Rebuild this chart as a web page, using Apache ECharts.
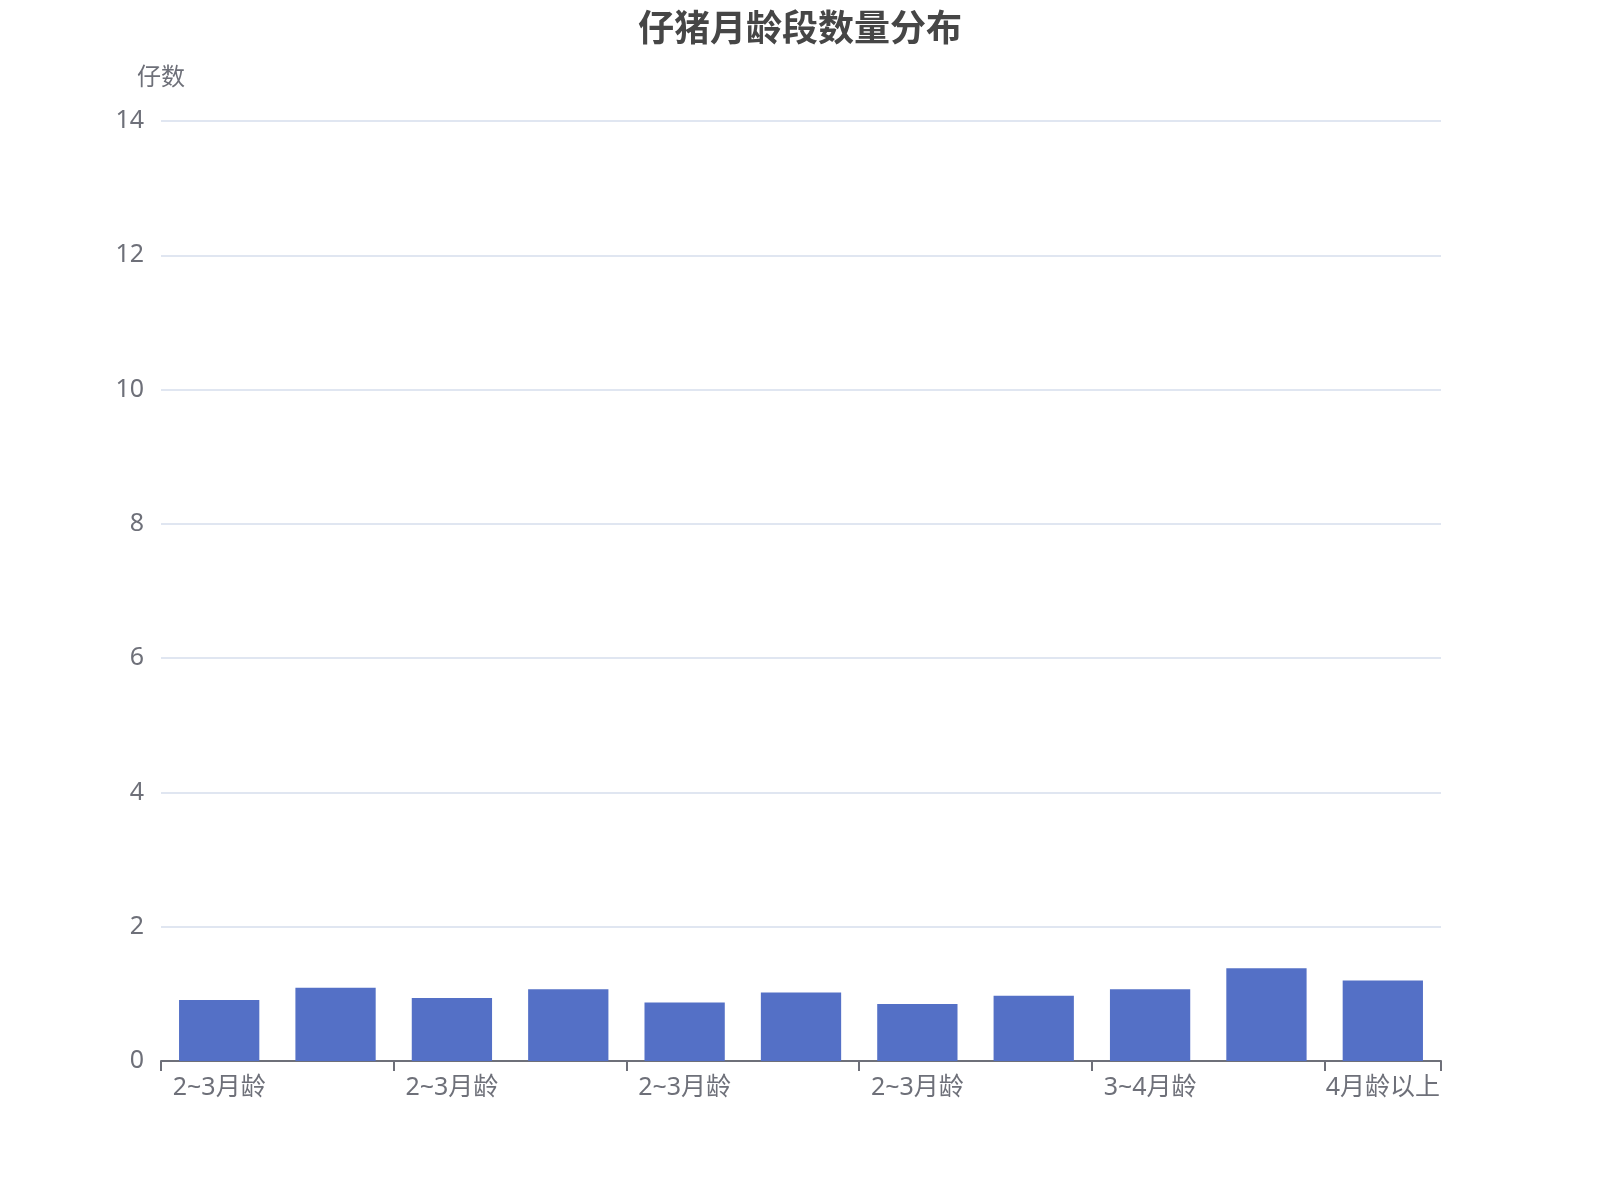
<!DOCTYPE html>
<html>
<head>
<meta charset="utf-8">
<script src="https://cdn.jsdelivr.net/npm/echarts@6/dist/echarts.min.js"></script>
<style>
html,body{margin:0;padding:0;background:#fff;}
#chart{width:1600px;height:1200px;}
</style>
</head>
<body>
<div id="chart"></div>
<script>
const titleText = '仔猪月龄段数量分布';
const yAxisName = '仔数';
const categories = ['2~3月龄','2~3月龄','2~3月龄','2~3月龄','2~3月龄','2~3月龄','2~3月龄','3~4月龄','3~4月龄','3~4月龄','4月龄以上'];
const counts = [0.91, 1.09, 0.94, 1.07, 0.87, 1.02, 0.85, 0.97, 1.07, 1.38, 1.20];
const yTicks = {min: 0, max: 14, interval: 2};

const font = "'Noto Sans', 'Noto Sans CJK SC', sans-serif";
const titleFont = "'Noto Sans CJK SC', 'Noto Sans', sans-serif";
const chart = echarts.init(document.getElementById('chart'));
chart.setOption({
  backgroundColor: '#ffffff',
  textStyle: {fontFamily: font},
  title: {
    text: titleText,
    left: 'center',
    top: 4,
    textStyle: {fontSize: 36, fontWeight: 'bold', color: '#464646', fontFamily: titleFont}
  },
  grid: {left: 161, right: 159, top: 121, bottom: 139, containLabel: false},
  xAxis: {
    type: 'category',
    data: categories,
    axisLine: {show: true, lineStyle: {color: '#6E7079', width: 2}},
    axisTick: {show: true, length: 10, interval: 1, lineStyle: {color: '#6E7079', width: 2}},
    axisLabel: {interval: 1, fontSize: 25, margin: 14, color: '#6E7079', fontFamily: font}
  },
  yAxis: {
    type: 'value',
    name: yAxisName,
    nameGap: 31,
    nameTextStyle: {fontSize: 24, color: '#6E7079', fontFamily: font},
    min: yTicks.min,
    max: yTicks.max,
    interval: yTicks.interval,
    axisLabel: {fontSize: 25, margin: 17, color: '#6E7079', fontFamily: font},
    splitLine: {lineStyle: {color: '#E0E6F1', width: 2}}
  },
  series: [{
    type: 'bar',
    data: counts,
    barCategoryGap: '31%',
    itemStyle: {color: '#5470c6'}
  }]
});
</script>
</body>
</html>
